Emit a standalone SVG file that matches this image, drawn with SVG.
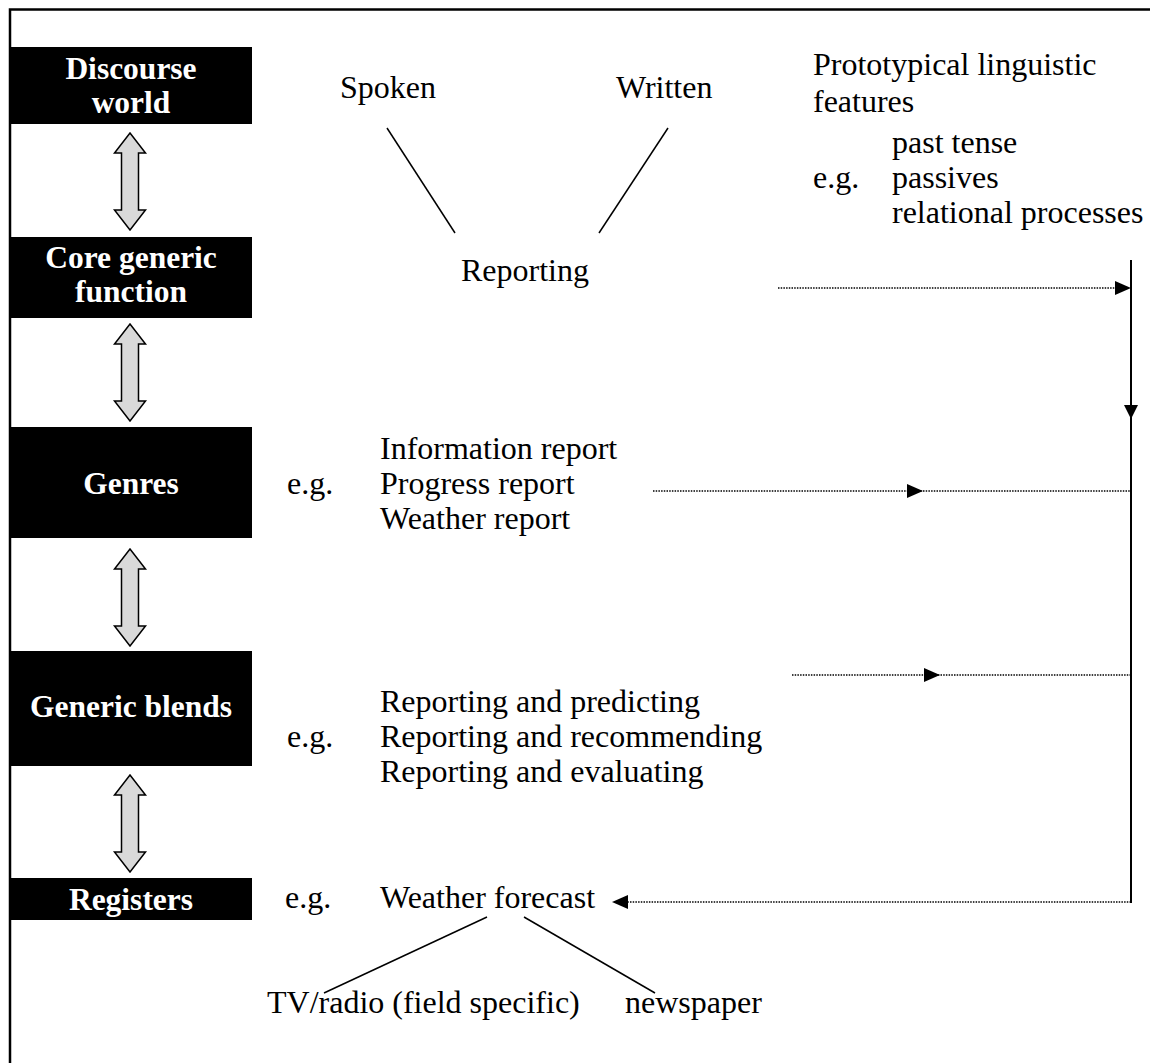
<svg xmlns="http://www.w3.org/2000/svg" width="1150" height="1063" viewBox="0 0 1150 1063">
  <style>
    .lvl { fill: #000; }
    .lvl-label { font-family: "Liberation Serif", "Times New Roman", serif; font-size: 31.5px; font-weight: bold; fill: #fff; text-anchor: middle; }
    .txt { font-family: "Liberation Serif", "Times New Roman", serif; font-size: 32px; fill: #000; }
    .dbl { fill: #d9d9d9; stroke: #000; stroke-width: 1.5; stroke-linejoin: miter; }
    .solid { stroke: #000; stroke-width: 2; fill: none; }
    .thin { stroke: #000; stroke-width: 1.5; fill: none; }
    .dotted { stroke: #000; stroke-width: 1.6; stroke-dasharray: 1.5 1.2; fill: none; }
    .head { fill: #000; }
  </style>
  <defs>
    <!-- vertical double-headed block arrow, 97px long, centred on x=0, top at y=0 -->
    <path id="dblArrow" d="M0,0 L15.5,20 L8.5,20 L8.5,77 L15.5,77 L0,97 L-15.5,77 L-8.5,77 L-8.5,20 L-15.5,20 Z"/>
  </defs>

  <rect width="1150" height="1063" fill="#fff"/>

  <!-- outer frame (top and left edges) -->
  <path d="M10,1063 L10,9.5 L1150,9.5" stroke="#000" stroke-width="2.5" fill="none"/>

  <!-- level boxes -->
  <g id="discourse-world">
    <rect class="lvl" x="11" y="47" width="241" height="77"/>
    <text class="lvl-label" x="131" y="79">Discourse</text>
    <text class="lvl-label" x="131" y="113">world</text>
  </g>
  <g id="core-generic-function">
    <rect class="lvl" x="11" y="237" width="241" height="81"/>
    <text class="lvl-label" x="131" y="268">Core generic</text>
    <text class="lvl-label" x="131" y="302">function</text>
  </g>
  <g id="genres">
    <rect class="lvl" x="11" y="427" width="241" height="111"/>
    <text class="lvl-label" x="131" y="494">Genres</text>
  </g>
  <g id="generic-blends">
    <rect class="lvl" x="11" y="651" width="241" height="115"/>
    <text class="lvl-label" x="131" y="717">Generic blends</text>
  </g>
  <g id="registers">
    <rect class="lvl" x="11" y="878" width="241" height="42"/>
    <text class="lvl-label" x="131" y="910">Registers</text>
  </g>

  <!-- double arrows between levels -->
  <g id="level-links">
    <use href="#dblArrow" class="dbl" x="130" y="133"/>
    <use href="#dblArrow" class="dbl" x="130" y="324"/>
    <use href="#dblArrow" class="dbl" x="130" y="549"/>
    <use href="#dblArrow" class="dbl" x="130" y="775"/>
  </g>

  <!-- discourse world / core function -->
  <g id="spoken"><text class="txt" x="340" y="98">Spoken</text></g>
  <g id="written"><text class="txt" x="616" y="98">Written</text></g>
  <g id="reporting"><text class="txt" x="461" y="281">Reporting</text></g>

  <g id="features">
    <text class="txt" x="813" y="75">Prototypical linguistic</text>
    <text class="txt" x="813" y="112">features</text>
    <text class="txt" x="892" y="153">past tense</text>
    <text class="txt" x="813" y="188">e.g.</text>
    <text class="txt" x="892" y="188">passives</text>
    <text class="txt" x="892" y="223">relational processes</text>
  </g>

  <g id="genre-examples">
    <text class="txt" x="287" y="494">e.g.</text>
    <text class="txt" x="380" y="459">Information report</text>
    <text class="txt" x="380" y="494">Progress report</text>
    <text class="txt" x="380" y="529">Weather report</text>
  </g>

  <g id="blend-examples">
    <text class="txt" x="287" y="747">e.g.</text>
    <text class="txt" x="380" y="712">Reporting and predicting</text>
    <text class="txt" x="380" y="747">Reporting and recommending</text>
    <text class="txt" x="380" y="782">Reporting and evaluating</text>
  </g>

  <g id="register-examples">
    <text class="txt" x="285" y="908">e.g.</text>
    <text class="txt" x="380" y="908">Weather forecast</text>
  </g>
  <g id="tv-radio"><text class="txt" x="267" y="1013">TV/radio (field specific)</text></g>
  <g id="newspaper"><text class="txt" x="625" y="1013">newspaper</text></g>

  <!-- connectors -->
  <g id="connectors">
    <line class="thin" x1="387" y1="128" x2="455" y2="233"/>
    <line class="thin" x1="668" y1="128" x2="599" y2="233"/>
    <line class="thin" x1="487" y1="917" x2="324" y2="993"/>
    <line class="thin" x1="524" y1="917" x2="655" y2="993"/>

    <!-- feature spine -->
    <line class="solid" x1="1131" y1="260" x2="1131" y2="903"/>
    <path class="head" d="M1124,405 L1138,405 L1131,419 Z"/>

    <!-- core function to spine -->
    <line class="dotted" x1="778" y1="288" x2="1117" y2="288"/>
    <path class="head" d="M1115,281 L1131,288 L1115,295 Z"/>

    <!-- genres -->
    <line class="dotted" x1="653" y1="491" x2="1131" y2="491"/>
    <path class="head" d="M907,484 L923,491 L907,498 Z"/>

    <!-- generic blends -->
    <line class="dotted" x1="792" y1="675" x2="1131" y2="675"/>
    <path class="head" d="M924,668 L940,675 L924,682 Z"/>

    <!-- back to registers -->
    <line class="dotted" x1="1131" y1="902" x2="626" y2="902"/>
    <path class="head" d="M628,895 L612,902 L628,909 Z"/>
  </g>
</svg>
